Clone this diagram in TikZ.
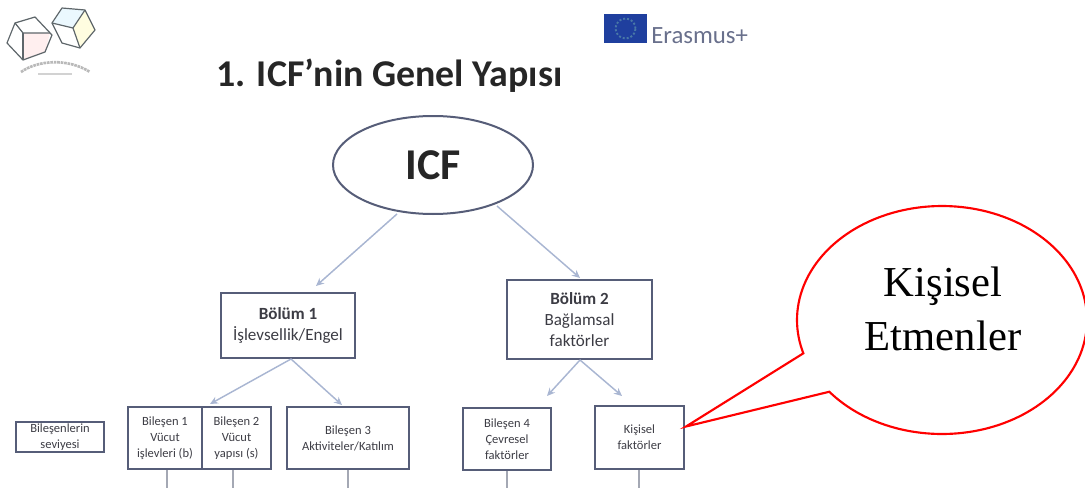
\documentclass[tikz,border=0pt]{standalone}
\usepackage{fontspec}
\setmainfont{Carlito}
\newfontfamily\calloutfont{Liberation Serif}
\definecolor{boxline}{HTML}{565D78}
\definecolor{arrowline}{HTML}{A9B6D2}
\definecolor{ticks}{HTML}{A4A8B4}
\definecolor{boxtext}{HTML}{3C3C44}
\definecolor{euBlue}{HTML}{1F3F9E}
\definecolor{erasmus}{HTML}{69708C}
\definecolor{dice}{HTML}{5E666A}
\usetikzlibrary{arrows.meta,shapes.geometric}
\tikzset{
  x=0.75pt,y=-0.75pt,
  oval/.style={draw=boxline,line width=1.5pt,ellipse,inner sep=0pt,minimum width=150pt,minimum height=73.5pt},
  partbox/.style={draw=boxline,line width=1.6pt,inner sep=0pt,align=center,text=boxtext,font=\fontsize{12.8}{16}\selectfont},
  compbox/.style={draw=boxline,line width=1.5pt,inner sep=0pt,align=center,text=boxtext,font=\fontsize{9.4}{12}\selectfont},
  link/.style={draw=arrowline,line width=1.1pt,-{Stealth[length=6pt,width=5.5pt]}},
  tick/.style={draw=ticks,line width=0.8pt},
  diceline/.style={draw=dice,line width=0.9pt,line join=round},
}
\begin{document}
\begin{tikzpicture}
\useasboundingbox (0,0) rectangle (1085,496);
% logo
\fill[pink!25] (23,33) -- (50,33) -- (45,52) -- (23,60) -- cycle;
\fill[yellow!12] (73,28) -- (85,10) -- (95,30) -- (80,48) -- cycle;
\fill[cyan!8] (73,28) -- (52,23) -- (62,8) -- (85,10) -- cycle;
\draw[diceline] (15,23) -- (35,17) -- (52,35) -- (45,52) -- (23,60) -- (7,43) -- cycle;
\draw[diceline] (15,23) -- (23,33) -- (50,33);
\draw[diceline] (23,33) -- (23,60);
\draw[diceline] (52,23) -- (62,8) -- (85,10) -- (95,30) -- (80,48) -- (62,43) -- cycle;
\draw[diceline] (52,23) -- (73,28) -- (85,10);
\draw[diceline] (73,28) -- (80,48);
\draw[gray!55,line width=2pt,dash pattern=on 2pt off 0.6pt] (21,72) .. controls (38,60) and (68,58) .. (90,72);
\draw[gray!35,line width=1pt] (38,74) -- (72,74);
% Erasmus+
\fill[euBlue] (604,14) rectangle (647,43);
\draw[cyan!30!euBlue,line width=1.4pt,dash pattern=on 1.5pt off 1.5pt] (625.5,28.5) circle (7.5pt);
\node (erasmus) [anchor=west,inner sep=0pt,text=erasmus,font=\fontsize{18.6}{18.6}\selectfont] at (651,36) {Erasmus+};
% title
\node (title) [anchor=west,inner sep=0pt,text=black!85,font=\fontsize{28.4}{28.4}\selectfont\bfseries] at (216,76) {1. ICF’nin Genel Yapısı};
% nodes
\node (icf) [oval,font=\fontsize{33}{33}\selectfont\bfseries,text=black!85] at (433,165) {ICF};
\node (part1) [partbox,minimum width=100.5pt,minimum height=48.75pt] at (288,325.5) {\textbf{Bölüm 1}\\İşlevsellik/Engel};
\node (part2) [partbox,minimum width=108.75pt,minimum height=59.25pt] at (579.5,319.5) {\textbf{Bölüm 2}\\Bağlamsal\\faktörler};
\node (level) [compbox,minimum width=66pt,minimum height=22.5pt] at (60,437) {Bileşenlerin\\seviyesi};
\node (c1) [compbox,minimum width=55.5pt,minimum height=46.5pt] at (165,438) {Bileşen 1\\Vücut\\işlevleri (b)};
\node (c2) [compbox,minimum width=51.75pt,minimum height=46.5pt] at (236.5,438) {Bileşen 2\\Vücut\\yapısı (s)};
\node (c3) [compbox,minimum width=91.5pt,minimum height=46.5pt] at (348,438) {Bileşen 3\\Aktiviteler/Katılım};
\node (c4) [compbox,minimum width=66pt,minimum height=46.5pt] at (507,439) {Bileşen 4\\Çevresel\\faktörler};
\node (c5) [compbox,minimum width=66.75pt,minimum height=47.25pt] at (639.5,437.5) {Kişisel\\faktörler};
% links
\coordinate (a1) at (397,214); \coordinate (a1e) at (316,286);
\coordinate (a2) at (497,206); \coordinate (a2e) at (580,278);
\coordinate (b0) at (291,359); \coordinate (b1) at (210,404); \coordinate (b2) at (342,405);
\coordinate (d0) at (580,360); \coordinate (d1) at (547,396); \coordinate (d2) at (622,396);
\draw[link] (a1) -- (a1e);
\draw[link] (a2) -- (a2e);
\draw[link] (b0) -- (b1);
\draw[link] (b0) -- (b2);
\draw[link] (d0) -- (d1);
\draw[link] (d0) -- (d2);
% stubs
\coordinate (t1) at (167,488); \coordinate (t2) at (233,488); \coordinate (t3) at (348,488);
\coordinate (t4) at (507,488); \coordinate (t5) at (639,488);
\draw[tick] (t1 |- c1.south) -- (t1);
\draw[tick] (t2 |- c2.south) -- (t2);
\draw[tick] (t3 |- c3.south) -- (t3);
\draw[tick] (t4 |- c4.south) -- (t4);
\draw[tick] (t5 |- c5.south) -- (t5);
% callout
\coordinate (tip) at (686,426.5);
\draw[red,line width=1.6pt,line join=miter,fill=white]
  plot[domain=163:501,samples=160] ({942+145*cos(\x)},{320+114*sin(\x)}) -- (tip) -- cycle;
\node (callout) [align=center,inner sep=0pt,font=\calloutfont\fontsize{32}{41}\selectfont] at (943,309) {Kişisel\\Etmenler};
\end{tikzpicture}
\end{document}
